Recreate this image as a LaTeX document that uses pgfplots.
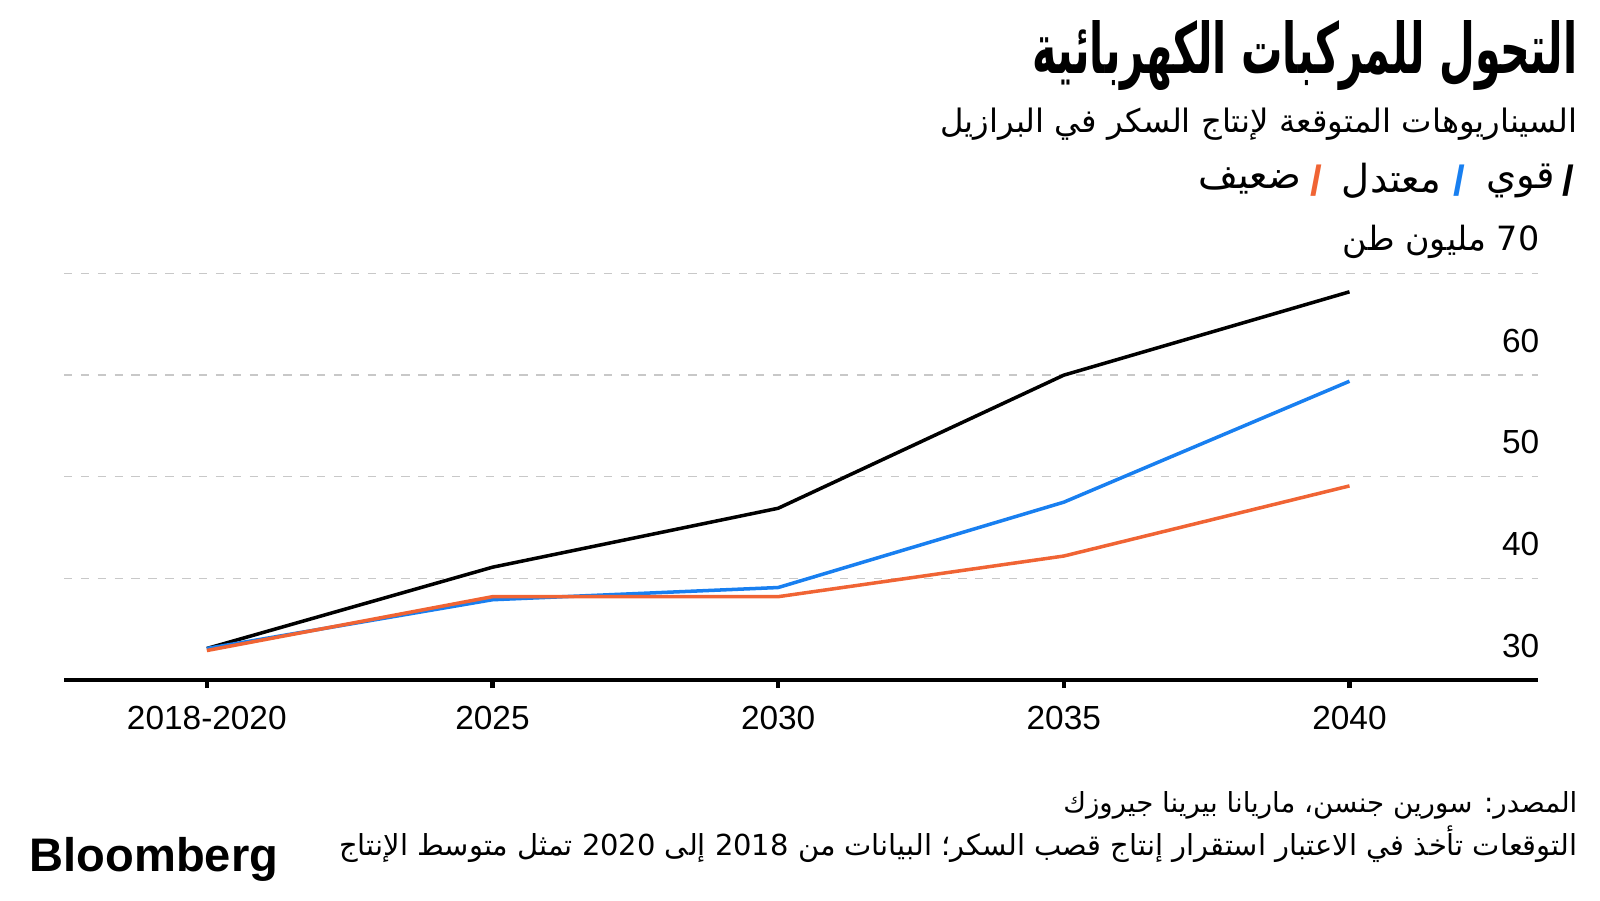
\documentclass[border=0pt]{standalone}
\usepackage{pgfplots}
\pgfplotsset{compat=1.18}
\usepackage{fontspec}
\setmainfont{Liberation Sans}
\newfontfamily\arabicfont[Script=Arabic]{DejaVu Sans}
\TeXXeTstate=1
\definecolor{cblue}{RGB}{24,127,240}
\definecolor{corange}{RGB}{240,100,52}
\definecolor{cgrid}{RGB}{200,200,200}
\begin{document}
\begin{tikzpicture}
\path (0,0) rectangle (16,9);
% title & subtitle
\node[anchor=east,inner sep=0] at (15.78,8.44) {\resizebox{5.45cm}{0.53cm}{\arabicfont\bfseries\beginR التحول للمركبات الكهربائية\endR}};
\node[anchor=east,inner sep=0] at (15.78,7.76) {\resizebox{6.37cm}{!}{\arabicfont\beginR السيناريوهات المتوقعة لإنتاج السكر في البرازيل\endR}};
% legend
\node[anchor=center,inner sep=0,font=\bfseries\fontsize{12}{14}\selectfont] at (15.68,7.19) {/};
\node[anchor=east,inner sep=0,font=\arabicfont\fontsize{11}{13}\selectfont] at (15.56,7.19) {\beginR قوي\endR};
\node[anchor=center,inner sep=0,font=\bfseries\fontsize{12}{14}\selectfont,text=cblue] at (14.59,7.19) {/};
\node[anchor=east,inner sep=0,font=\arabicfont\fontsize{11}{13}\selectfont] at (14.42,7.19) {\beginR معتدل\endR};
\node[anchor=center,inner sep=0,font=\bfseries\fontsize{12}{14}\selectfont,text=corange] at (13.16,7.19) {/};
\node[anchor=east,inner sep=0,font=\arabicfont\fontsize{11}{13}\selectfont] at (13.02,7.19) {\beginR ضعيف\endR};
\begin{axis}[
  at={(0.64cm,2.20cm)}, anchor=south west,
  scale only axis, width=14.74cm, height=4.065cm,
  xmin=-0.5, xmax=4.66, ymin=30, ymax=70,
  axis x line*=bottom, axis y line*=right,
  x axis line style={black,line width=1.2pt},
  y axis line style={draw=none},
  xtick={0,1,2,3,4},
  xticklabels={2018-2020,2025,2030,2035,2040},
  ytick={30,40,50,60,70},
  yticklabels={30,40,50,60,{\arabicfont\beginR 70 مليون طن\endR}},
  ymajorgrids,
  grid style={cgrid,line width=0.4pt,dash pattern=on 2.4pt off 2.4pt},
  ytick style={draw=none},
  xtick style={black,line width=1.2pt},
  tick align=outside, major tick length=0.08cm,
  yticklabel style={anchor=base east,inner xsep=0pt,xshift=-0.06cm,yshift=0.23cm,font=\fontsize{9.5}{11}\selectfont},
  xticklabel style={anchor=base,yshift=-0.41cm,font=\fontsize{9.5}{11}\selectfont},
  clip=false,
  line join=round,
]
\addplot[black,line width=1pt] coordinates {(0,33.1) (1,41.1) (2,46.9) (3,60.0) (4,68.2)};
\addplot[cblue,line width=1pt] coordinates {(0,33.1) (1,37.9) (2,39.1) (3,47.5) (4,59.4)};
\addplot[corange,line width=1pt] coordinates {(0,32.9) (1,38.2) (2,38.2) (3,42.2) (4,49.1)};
\end{axis}
% footer
\node[anchor=east,inner sep=0] at (15.78,0.95) {\resizebox{5.14cm}{!}{\arabicfont\beginR المصدر: سورين جنسن، ماريانا بيرينا جيروزك\endR}};
\node[anchor=east,inner sep=0] at (15.78,0.56) {\resizebox{12.38cm}{!}{\arabicfont\beginR التوقعات تأخذ في الاعتبار استقرار إنتاج قصب السكر؛ البيانات من \beginL 2018\endL{} إلى \beginL 2020\endL{} تمثل متوسط الإنتاج\endR}};
\node[anchor=west,inner sep=0,font=\bfseries\fontsize{13.4}{15}\selectfont] at (0.29,0.41) {Bloomberg};
\end{tikzpicture}
\end{document}
